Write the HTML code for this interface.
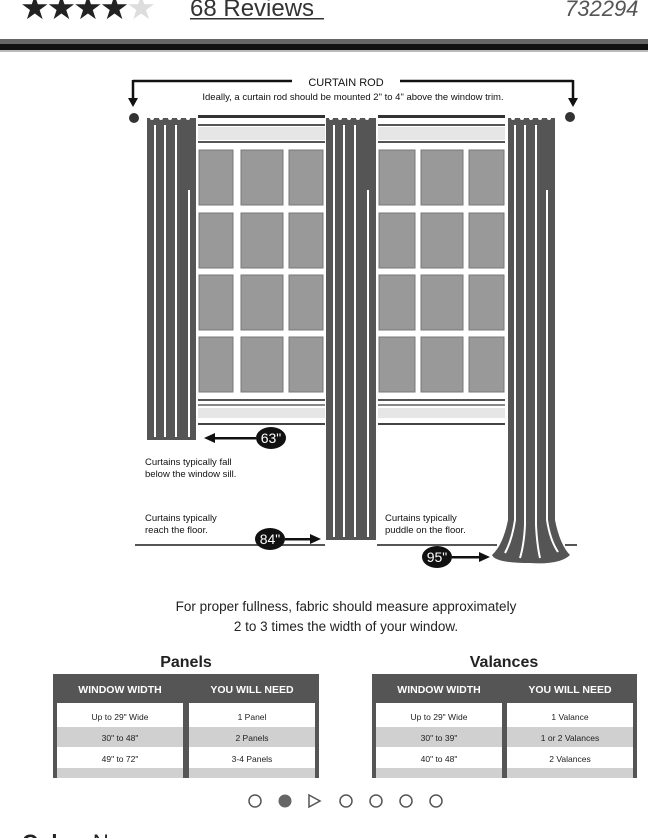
<!DOCTYPE html>
<html><head><meta charset="utf-8"><style>
html,body{margin:0;padding:0;background:#fff;width:648px;height:838px;overflow:hidden}
svg{display:block}
</style></head><body>
<svg width="648" height="838" viewBox="0 0 648 838" xmlns="http://www.w3.org/2000/svg" font-family="Liberation Sans, sans-serif">
<!-- top bar -->
<text x="20" y="19" font-size="33" letter-spacing="-3" fill="#222">★★★★<tspan fill="#ddd">★</tspan></text>
<text x="190" y="16" font-size="24" fill="#333">68 Reviews</text>
<rect x="190" y="18" width="134" height="1.5" fill="#333"/>
<text x="565" y="16" font-size="22" fill="#555" font-style="italic">732294</text>
<rect x="0" y="39" width="648" height="5" fill="#666"/>
<rect x="0" y="44" width="648" height="6" fill="#111"/>
<rect x="0" y="50" width="648" height="2" fill="#bbb"/>

<!-- rod annotation -->
<g stroke="#111" stroke-width="2.5" fill="none">
<path d="M133 81 H292 M400 81 H573 M133 80 V100 M573 80 V100"/>
</g>
<path d="M128 98 L138 98 L133 107Z M568 98 L578 98 L573 107Z" fill="#111"/>
<text x="346" y="86" font-size="11" text-anchor="middle" fill="#111">CURTAIN ROD</text>
<text x="353" y="100" font-size="9.5" text-anchor="middle" fill="#111">Ideally, a curtain rod should be mounted 2" to 4" above the window trim.</text>
<circle cx="134" cy="118" r="5" fill="#333"/>
<circle cx="570" cy="117" r="5" fill="#333"/>

<!-- window -->
<g>
<rect x="198" y="115" width="127" height="3" fill="#333"/>
<rect x="378" y="115" width="127" height="3" fill="#333"/>
<rect x="198" y="124" width="127" height="2" fill="#555"/>
<rect x="378" y="124" width="127" height="2" fill="#555"/>
<rect x="198" y="127" width="127" height="13" fill="#e6e6e6"/>
<rect x="378" y="127" width="127" height="13" fill="#e6e6e6"/>
<rect x="198" y="141" width="127" height="2" fill="#555"/>
<rect x="378" y="141" width="127" height="2" fill="#555"/>
<g fill="#999" stroke="#777" stroke-width="1">
<rect x="199" y="150" width="34" height="55"/><rect x="241" y="150" width="42" height="55"/><rect x="289" y="150" width="34" height="55"/>
<rect x="199" y="213" width="34" height="55"/><rect x="241" y="213" width="42" height="55"/><rect x="289" y="213" width="34" height="55"/>
<rect x="199" y="275" width="34" height="55"/><rect x="241" y="275" width="42" height="55"/><rect x="289" y="275" width="34" height="55"/>
<rect x="199" y="337" width="34" height="55"/><rect x="241" y="337" width="42" height="55"/><rect x="289" y="337" width="34" height="55"/>
<rect x="379" y="150" width="36" height="55"/><rect x="421" y="150" width="42" height="55"/><rect x="469" y="150" width="35" height="55"/>
<rect x="379" y="213" width="36" height="55"/><rect x="421" y="213" width="42" height="55"/><rect x="469" y="213" width="35" height="55"/>
<rect x="379" y="275" width="36" height="55"/><rect x="421" y="275" width="42" height="55"/><rect x="469" y="275" width="35" height="55"/>
<rect x="379" y="337" width="36" height="55"/><rect x="421" y="337" width="42" height="55"/><rect x="469" y="337" width="35" height="55"/>
</g>
<rect x="198" y="399" width="127" height="2" fill="#555"/><rect x="378" y="399" width="127" height="2" fill="#555"/>
<rect x="198" y="404" width="127" height="2" fill="#888"/><rect x="378" y="404" width="127" height="2" fill="#888"/>
<rect x="198" y="408" width="127" height="10" fill="#e6e6e6"/><rect x="378" y="408" width="127" height="10" fill="#e6e6e6"/>
<rect x="198" y="423" width="127" height="2" fill="#444"/><rect x="378" y="423" width="127" height="2" fill="#444"/>
</g>

<!-- curtains -->
<g>
<rect x="147" y="118" width="49" height="322" fill="#555"/>
<g fill="#fff"><rect x="154" y="125" width="2" height="312"/><rect x="164" y="125" width="2" height="312"/><rect x="175" y="125" width="2" height="312"/><rect x="188" y="190" width="2" height="247"/></g>
<rect x="326" y="118" width="50" height="422" fill="#555"/>
<g fill="#fff"><rect x="333" y="125" width="2" height="412"/><rect x="343" y="125" width="2" height="412"/><rect x="354" y="125" width="2" height="412"/><rect x="367" y="190" width="2" height="347"/></g>
<path d="M508 118 H555 V520 Q560 545 570 555 Q560 565 530 563 Q495 563 492 555 Q503 545 508 520Z" fill="#555"/>
<g stroke="#fff" stroke-width="2" fill="none">
<path d="M515 125 V520 Q512 540 505 553"/><path d="M525 125 V525 Q524 545 520 558"/><path d="M536 125 V525 Q537 545 540 558"/><path d="M547 190 V520 Q550 540 558 552"/>
</g>
<g fill="#fff">
<circle cx="152" cy="118" r="2"/><circle cx="161" cy="118" r="2"/><circle cx="170" cy="118" r="2"/><circle cx="179" cy="118" r="2"/><circle cx="188" cy="118" r="2"/>
<circle cx="331" cy="118" r="2"/><circle cx="340" cy="118" r="2"/><circle cx="349" cy="118" r="2"/><circle cx="358" cy="118" r="2"/><circle cx="367" cy="118" r="2"/>
<circle cx="513" cy="118" r="2"/><circle cx="522" cy="118" r="2"/><circle cx="531" cy="118" r="2"/><circle cx="540" cy="118" r="2"/><circle cx="549" cy="118" r="2"/>
</g>
</g>

<!-- floor & labels -->
<rect x="135" y="544" width="190" height="2" fill="#555"/>
<rect x="377" y="544" width="120" height="2" fill="#555"/>
<rect x="565" y="544" width="12" height="2" fill="#555"/>
<g fill="#111">
<ellipse cx="271" cy="438" rx="15" ry="11"/>
<ellipse cx="270" cy="539" rx="15" ry="11"/>
<ellipse cx="437" cy="557" rx="15" ry="11"/>
<rect x="212" y="437" width="44" height="2.5"/><path d="M204 438 L215 433 L215 443Z"/>
<rect x="285" y="538" width="28" height="2.5"/><path d="M321 539 L310 534 L310 544Z"/>
<rect x="452" y="556" width="30" height="2.5"/><path d="M490 557 L479 552 L479 562Z"/>
</g>
<g fill="#fff" font-size="14" text-anchor="middle">
<text x="271" y="443">63"</text><text x="270" y="544">84"</text><text x="437" y="562">95"</text>
</g>
<g font-size="9.5" fill="#111">
<text x="145" y="465">Curtains typically fall</text>
<text x="145" y="477">below the window sill.</text>
<text x="145" y="521">Curtains typically</text>
<text x="145" y="533">reach the floor.</text>
<text x="385" y="521">Curtains typically</text>
<text x="385" y="533">puddle on the floor.</text>
</g>
<g font-size="13.5" fill="#222" text-anchor="middle">
<text x="346" y="611">For proper fullness, fabric should measure approximately</text>
<text x="346" y="631">2 to 3 times the width of your window.</text>
</g>
<g font-size="16" font-weight="bold" fill="#222" text-anchor="middle">
<text x="186" y="667">Panels</text><text x="504" y="667">Valances</text>
</g>

<!-- tables -->
<g>
<rect x="53" y="674" width="266" height="104" fill="#555"/>
<rect x="57" y="703" width="126" height="75" fill="#fff"/>
<rect x="189" y="703" width="126" height="75" fill="#fff"/>
<rect x="57" y="727" width="126" height="20" fill="#d0d0d0"/><rect x="189" y="727" width="126" height="20" fill="#d0d0d0"/>
<rect x="57" y="768" width="126" height="10" fill="#d0d0d0"/><rect x="189" y="768" width="126" height="10" fill="#d0d0d0"/>
<rect x="372" y="674" width="265" height="104" fill="#555"/>
<rect x="376" y="703" width="126" height="75" fill="#fff"/>
<rect x="507" y="703" width="126" height="75" fill="#fff"/>
<rect x="376" y="727" width="126" height="20" fill="#d0d0d0"/><rect x="507" y="727" width="126" height="20" fill="#d0d0d0"/>
<rect x="376" y="768" width="126" height="10" fill="#d0d0d0"/><rect x="507" y="768" width="126" height="10" fill="#d0d0d0"/>
<g fill="#fff" font-size="10.5" font-weight="bold" text-anchor="middle">
<text x="120" y="693">WINDOW WIDTH</text><text x="252" y="693">YOU WILL NEED</text>
<text x="439" y="693">WINDOW WIDTH</text><text x="570" y="693">YOU WILL NEED</text>
</g>
<g fill="#222" font-size="8.5" text-anchor="middle">
<text x="120" y="720">Up to 29" Wide</text><text x="252" y="720">1 Panel</text>
<text x="120" y="741">30" to 48"</text><text x="252" y="741">2 Panels</text>
<text x="120" y="762">49" to 72"</text><text x="252" y="762">3-4 Panels</text>
<text x="439" y="720">Up to 29" Wide</text><text x="570" y="720">1 Valance</text>
<text x="439" y="741">30" to 39"</text><text x="570" y="741">1 or 2 Valances</text>
<text x="439" y="762">40" to 48"</text><text x="570" y="762">2 Valances</text>
</g>
</g>

<!-- dots -->
<g fill="none" stroke="#555" stroke-width="1.5">
<circle cx="255" cy="801" r="6"/>
<path d="M309 795 L320 801 L309 807Z"/>
<circle cx="346" cy="801" r="6"/><circle cx="376" cy="801" r="6"/><circle cx="406" cy="801" r="6"/><circle cx="436" cy="801" r="6"/>
</g>
<circle cx="285" cy="801" r="6.5" fill="#666"/>
<text x="22" y="850" font-size="22" fill="#222"><tspan font-weight="bold">Color:</tspan> Navy</text>
</svg>
</body></html>
